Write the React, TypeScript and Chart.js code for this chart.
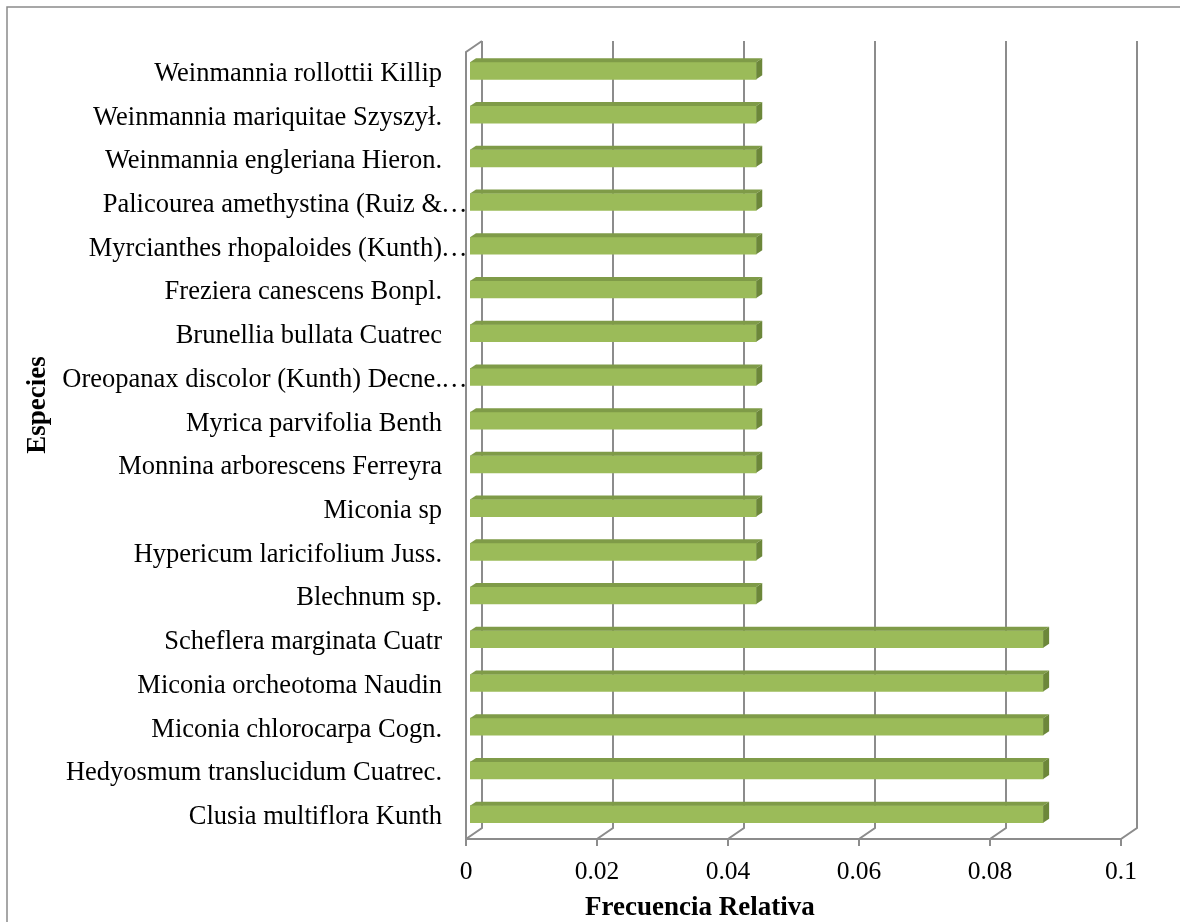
import React, { useEffect, useRef } from "react";
import { Chart, registerables } from "chart.js";

Chart.register(...registerables);

const categories = [
  "Weinmannia rollottii Killip",
  "Weinmannia mariquitae Szyszył.",
  "Weinmannia engleriana Hieron.",
  "Palicourea amethystina (Ruiz &…",
  "Myrcianthes rhopaloides (Kunth)…",
  "Freziera canescens Bonpl.",
  "Brunellia bullata Cuatrec",
  "Oreopanax discolor (Kunth) Decne.…",
  "Myrica parvifolia Benth",
  "Monnina arborescens Ferreyra",
  "Miconia sp",
  "Hypericum laricifolium Juss.",
  "Blechnum sp.",
  "Scheflera marginata Cuatr",
  "Miconia orcheotoma Naudin",
  "Miconia chlorocarpa Cogn.",
  "Hedyosmum translucidum Cuatrec.",
  "Clusia multiflora Kunth",
];

const frecuencias = [
  0.0437, 0.0437, 0.0437, 0.0437, 0.0437, 0.0437, 0.0437, 0.0437, 0.0437,
  0.0437, 0.0437, 0.0437, 0.0437, 0.0875, 0.0875, 0.0875, 0.0875, 0.0875,
];

const xTicks = [0, 0.02, 0.04, 0.06, 0.08, 0.1];

const xTitle = "Frecuencia Relativa";
const yTitle = "Especies";

const ELLIPSIS = "…";
const FONT = "'Liberation Serif', 'Times New Roman', serif";
const LABEL_SIZE = 26.5;
const GRID = "#8c8c8c";
const FRONT = "#9bbb59";
const TOP = "#7f9b48";
const SIDE = "#6c873a";

// 3D depth of the walls and bars (pixels)
const WALL_DX = 16;
const WALL_DY = -11;
const BAR_SHIFT_X = 4;
const BAR_SHIFT_Y = -3;
const BAR_DX = 6;
const BAR_DY = -4;

const stem = (s: string) => (s.endsWith(ELLIPSIS) ? s.slice(0, -1) : s);

const threeD = {
  id: "threeD",
  beforeDatasetsDraw(chart: any) {
    const { ctx, chartArea, scales } = chart;
    const { top, bottom, left } = chartArea;
    const x = scales.x;
    ctx.save();
    ctx.strokeStyle = GRID;
    ctx.lineWidth = 2;
    ctx.beginPath();
    xTicks.forEach((v) => {
      const px = Math.round(x.getPixelForValue(v));
      ctx.moveTo(px, bottom + 7);
      ctx.lineTo(px, bottom);
      ctx.lineTo(px + WALL_DX, bottom + WALL_DY);
      ctx.lineTo(px + WALL_DX, top + WALL_DY);
    });
    // left wall front edge
    const lx = Math.round(left);
    ctx.moveTo(lx, bottom);
    ctx.lineTo(lx, top);
    ctx.lineTo(lx + WALL_DX, top + WALL_DY);
    // front axis
    ctx.moveTo(lx - 1, bottom);
    ctx.lineTo(Math.round(x.getPixelForValue(xTicks[xTicks.length - 1])) + 1, bottom);
    ctx.stroke();
    ctx.restore();
    ctx.save();
    ctx.translate(BAR_SHIFT_X, BAR_SHIFT_Y);
  },
  afterDatasetsDraw(chart: any) {
    const { ctx } = chart;
    ctx.restore();
    const meta = chart.getDatasetMeta(0);
    ctx.save();
    meta.data.forEach((el: any) => {
      const { x, y, base, height } = el.getProps(["x", "y", "base", "height"], true);
      const x0 = Math.min(x, base) + BAR_SHIFT_X;
      const x1 = Math.max(x, base) + BAR_SHIFT_X;
      const y0 = y - height / 2 + BAR_SHIFT_Y;
      const y1 = y + height / 2 + BAR_SHIFT_Y;
      ctx.fillStyle = TOP;
      ctx.beginPath();
      ctx.moveTo(x0, y0);
      ctx.lineTo(x0 + BAR_DX, y0 + BAR_DY);
      ctx.lineTo(x1 + BAR_DX, y0 + BAR_DY);
      ctx.lineTo(x1, y0);
      ctx.closePath();
      ctx.fill();
      ctx.fillStyle = SIDE;
      ctx.beginPath();
      ctx.moveTo(x1, y0);
      ctx.lineTo(x1 + BAR_DX, y0 + BAR_DY);
      ctx.lineTo(x1 + BAR_DX, y1 + BAR_DY);
      ctx.lineTo(x1, y1);
      ctx.closePath();
      ctx.fill();
    });
    ctx.restore();
  },
  afterDraw(chart: any) {
    const { ctx, chartArea, scales } = chart;
    ctx.save();
    // outer chart border
    ctx.strokeStyle = "#8a8a8a";
    ctx.lineWidth = 1.5;
    ctx.strokeRect(7, 7, 3000, 3000);
    // hanging ellipsis of truncated category labels (Excel style)
    ctx.fillStyle = "#000";
    ctx.font = `${LABEL_SIZE}px ${FONT}`;
    ctx.textAlign = "left";
    ctx.textBaseline = "middle";
    categories.forEach((c, i) => {
      if (c.endsWith(ELLIPSIS)) {
        const py = scales.y.getPixelForTick(i);
        ctx.fillText(ELLIPSIS, chartArea.left - 25, py);
      }
    });
    // axis titles
    ctx.font = `bold 27px ${FONT}`;
    ctx.textAlign = "left";
    ctx.textBaseline = "alphabetic";
    ctx.fillText(xTitle, 585, 915);
    ctx.translate(45, 405);
    ctx.rotate(-Math.PI / 2);
    ctx.textAlign = "center";
    ctx.fillText(yTitle, 0, 0);
    ctx.restore();
  },
};

export default function App() {
  const ref = useRef<HTMLCanvasElement | null>(null);

  useEffect(() => {
    if (!ref.current) return;
    const chart = new Chart(ref.current, {
      type: "bar",
      data: {
        labels: categories,
        datasets: [
          {
            data: frecuencias,
            backgroundColor: FRONT,
            borderWidth: 0,
            barThickness: 17,
          },
        ],
      },
      options: {
        indexAxis: "y",
        animation: false,
        responsive: false,
        layout: { padding: { top: 52, right: 59, left: 0, bottom: 0 } },
        plugins: {
          legend: { display: false },
          tooltip: { enabled: false },
        },
        scales: {
          x: {
            min: 0,
            max: 0.1,
            grid: { display: false },
            border: { display: false },
            afterBuildTicks: (s: any) => {
              s.ticks = xTicks.map((v) => ({ value: v }));
            },
            afterFit: (s: any) => {
              s.height = 83;
            },
            ticks: {
              padding: 10,
              color: "#000",
              font: { family: FONT, size: 25.5 },
              maxRotation: 0,
              autoSkip: false,
              callback: (v: any) => String(+(+v).toFixed(2)),
            },
          },
          y: {
            grid: { display: false },
            border: { display: false },
            afterFit: (s: any) => {
              s.width = 466;
            },
            ticks: {
              padding: 16,
              color: "#000",
              autoSkip: false,
              font: { family: FONT, size: LABEL_SIZE },
              callback: (_v: any, i: number) => stem(categories[i]),
            },
          },
        },
      },
      plugins: [threeD],
    });
    return () => chart.destroy();
  }, []);

  return (
    <div style={{ position: "fixed", left: 0, top: 0, width: 1180, height: 922, background: "#fff" }}>
      <canvas ref={ref} width={1180} height={922} />
    </div>
  );
}
